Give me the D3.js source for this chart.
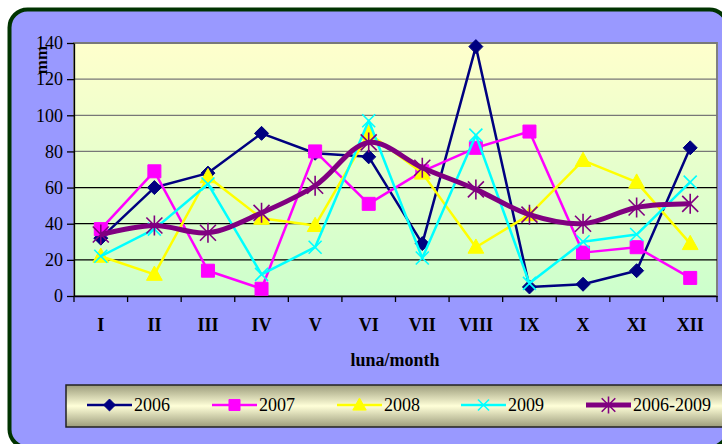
<!DOCTYPE html>
<html><head><meta charset="utf-8">
<script src="https://cdn.jsdelivr.net/npm/d3@7"></script>
<style>html,body{margin:0;padding:0;background:#fff;}svg{display:block;}
text{font-family:"Liberation Serif","Times New Roman",serif;}</style>
</head><body>
<svg id="c" width="722" height="444"></svg>
<script>
const months = ["I","II","III","IV","V","VI","VII","VIII","IX","X","XI","XII"];
const s2006 = [32,60,68,90,79,77,29,138,5,6.5,14,82];
const s2007 = [37,69,14,4,80,51,69,82,91,24,27,10];
const s2008 = [22,12,66,43,39,90,68,27,45,75,63,29];
const s2009 = [22,37,62,12,27,97,21,89,7,30,34,63];
const sAvg  = [34,39,35,46,61,85,71,59,45,40,49,51];
const yTicks = [0,20,40,60,80,100,120,140];
const seriesNames = ["2006","2007","2008","2009","2006-2009"];

const series = [
  {name:seriesNames[0], values:s2006, color:"#000080", width:2.5, marker:"diamond", smooth:false},
  {name:seriesNames[1], values:s2007, color:"#FF00FF", width:2.5, marker:"square", smooth:false},
  {name:seriesNames[2], values:s2008, color:"#FFFF00", width:2.5, marker:"triangle", smooth:false},
  {name:seriesNames[3], values:s2009, color:"#00FFFF", width:2.5, marker:"x", smooth:false},
  {name:seriesNames[4], values:sAvg, color:"#800080", width:5, marker:"star", smooth:true}
];
const FONT = "'Liberation Serif','Times New Roman',serif";

const svg = d3.select("#c");
const defs = svg.append("defs");
const pg = defs.append("linearGradient").attr("id","pg").attr("x1",0).attr("y1",0).attr("x2",0).attr("y2",1);
pg.append("stop").attr("offset","0%").attr("stop-color","#FFFFCC");
pg.append("stop").attr("offset","100%").attr("stop-color","#CCFFCC");
const lg = defs.append("linearGradient").attr("id","lg").attr("x1",0).attr("y1",0).attr("x2",0).attr("y2",1);
lg.append("stop").attr("offset","0%").attr("stop-color","#9C9C7C");
lg.append("stop").attr("offset","50%").attr("stop-color","#FFFFD8");
lg.append("stop").attr("offset","100%").attr("stop-color","#9C9C7C");

// outer frame
svg.append("rect").attr("x",9.5).attr("y",9.5).attr("width",718).attr("height",438)
  .attr("rx",18).attr("fill","#9999FF").attr("stroke","#003300").attr("stroke-width",4);

const L=74, R=717, T=43, B=296;
const x = d3.scaleBand().domain(months).range([L,R]);
const y = d3.scaleLinear().domain([0,140]).range([B,T]);

svg.append("rect").attr("x",L).attr("y",T).attr("width",R-L).attr("height",B-T)
  .attr("fill","url(#pg)").attr("stroke","#808080").attr("stroke-width",2);

// gridlines
svg.append("g").selectAll("line").data(yTicks.filter(d=>d>0)).join("line")
  .attr("x1",L).attr("x2",R).attr("y1",d=>y(d)).attr("y2",d=>y(d))
  .attr("stroke",d=>d>=80?"#777":"#000").attr("stroke-width",1.3);

// axes
const yAxis = svg.append("g").attr("transform",`translate(${L},0)`)
  .call(d3.axisLeft(y).tickValues(yTicks).tickSize(7).tickSizeOuter(0).tickPadding(4));
yAxis.attr("font-family",FONT);
yAxis.select(".domain").attr("stroke","#000").attr("stroke-width",1.3);
yAxis.selectAll(".tick line").attr("stroke","#000").attr("stroke-width",1.3);
yAxis.selectAll("text").style("font-family",FONT).attr("font-size",18).attr("fill","#000");

const xAxis = svg.append("g").attr("transform",`translate(0,${B})`)
  .call(d3.axisBottom(x).tickSize(0).tickPadding(22));
xAxis.attr("font-family",FONT);
xAxis.select(".domain").attr("stroke","#000").attr("stroke-width",1.3);
xAxis.selectAll("text").style("font-family",FONT).attr("font-size",18)
  .attr("font-weight","bold").attr("fill","#000");
// x tick marks at band boundaries
const bounds = months.map(m=>x(m)).concat([R]);
svg.append("g").selectAll("line").data(bounds).join("line")
  .attr("x1",d=>d).attr("x2",d=>d).attr("y1",B).attr("y2",B+6)
  .attr("stroke","#000").attr("stroke-width",1.3);

// axis titles
svg.append("text").attr("x",395).attr("y",366).attr("text-anchor","middle")
  .style("font-family",FONT).attr("font-size",18).attr("font-weight","bold").text("luna/month");
svg.append("text").attr("transform","translate(47,60) rotate(-90)").attr("text-anchor","middle")
  .style("font-family",FONT).attr("font-size",17).attr("font-weight","bold").text("mm");

function markerPath(type, s){
  switch(type){
    case "diamond": return `M0,${-s}L${s},0L0,${s}L${-s},0Z`;
    case "square": return `M${-s},${-s}H${s}V${s}H${-s}Z`;
    case "triangle": return `M0,${-s*1.1}L${s*1.05},${s*0.8}L${-s*1.05},${s*0.8}Z`;
    case "x": return `M${-s},${-s}L${s},${s}M${-s},${s}L${s},${-s}`;
    case "star": return `M${-s},${-s}L${s},${s}M${-s},${s}L${s},${-s}M0,${-s*1.25}V${s*1.25}`;
  }
}
function drawMarker(g, type, color, s){
  const filled = type==="diamond"||type==="square"||type==="triangle";
  g.append("path").attr("d",markerPath(type,s))
    .attr("fill",filled?color:"none").attr("stroke",color)
    .attr("stroke-width",filled?1:1.6);
}
const sizes = {diamond:7, square:6.5, triangle:7.5, x:6.5, star:8};

const cx = m=>x(m)+x.bandwidth()/2;
series.forEach(s=>{
  const line = d3.line().x((d,i)=>cx(months[i])).y(d=>y(d))
    .curve(s.smooth?d3.curveCatmullRom.alpha(0.5):d3.curveLinear);
  svg.append("path").datum(s.values).attr("d",line).attr("fill","none")
    .attr("stroke",s.color).attr("stroke-width",s.width).attr("stroke-linejoin","round");
  s.values.forEach((v,i)=>{
    const g = svg.append("g").attr("transform",`translate(${cx(months[i])},${y(v)})`);
    drawMarker(g, s.marker, s.color, sizes[s.marker]);
  });
});

// legend
svg.append("rect").attr("x",66).attr("y",385).attr("width",670).attr("height",42)
  .attr("fill","url(#lg)").attr("stroke","#222").attr("stroke-width",1.5);
const legX = [87,212,337,461,586];
series.forEach((s,i)=>{
  const g = svg.append("g").attr("transform",`translate(${legX[i]},405)`);
  g.append("line").attr("x1",0).attr("x2",45).attr("y1",0).attr("y2",0)
    .attr("stroke",s.color).attr("stroke-width",s.width);
  const mg = g.append("g").attr("transform","translate(22.5,0)");
  drawMarker(mg, s.marker, s.color, sizes[s.marker]*0.85);
  g.append("text").attr("x",47).attr("y",6).style("font-family",FONT)
    .attr("font-size",18).attr("fill","#000").text(s.name);
});
</script>
</body></html>
